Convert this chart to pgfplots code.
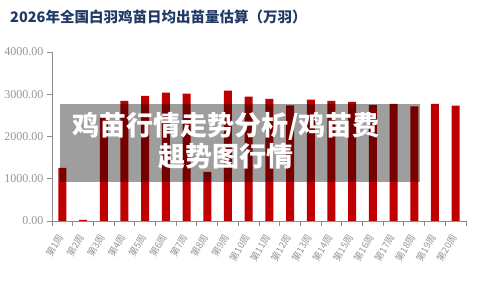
\documentclass[border=0pt]{standalone}
\usepackage{fontspec}
\setmainfont{Liberation Serif}
\newfontfamily\cjk{Noto Sans CJK SC}
\usepackage{pgfplots}
\pgfplotsset{compat=1.18}
\definecolor{barred}{RGB}{192,0,0}
\definecolor{axgray}{RGB}{140,140,140}
\definecolor{lblgray}{RGB}{150,150,150}
\definecolor{titleblue}{RGB}{31,56,100}
\begin{document}
\begin{tikzpicture}[x=1pt,y=1pt]
\path[use as bounding box] (0,0) rectangle (480,288);
\node[anchor=base west,inner sep=0pt,text=titleblue,font=\cjk\bfseries\fontsize{14.5}{16}\selectfont] at (10,265) {2026年全国白羽鸡苗日均出苗量估算（万羽）};
\begin{axis}[
  at={(52pt,67pt)}, anchor=origin,
  scale only axis, width=414pt, height=169pt,
  xmin=0.5, xmax=20.5, ymin=0, ymax=4000,
  axis x line=bottom, axis y line=left,
  axis line style={-, draw=axgray, line width=0.9pt},
  ytick={0,1000,2000,3000,4000},
  yticklabel style={font=\fontsize{12}{13}\selectfont, text=lblgray},
  yticklabel style={/pgf/number format/fixed, /pgf/number format/fixed zerofill, /pgf/number format/precision=2, /pgf/number format/1000 sep={}, /pgf/number format/assume math mode=true},
  ytick style={draw=axgray, line width=0.9pt},
  tick align=outside, major tick length=5pt,
  xtick={1,...,20},
  xticklabels={第1周,第2周,第3周,第4周,第5周,第6周,第7周,第8周,第9周,第10周,第11周,第12周,第13周,第14周,第15周,第16周,第17周,第18周,第19周,第20周},
  xticklabel style={font=\cjk\fontsize{9.5}{10}\selectfont, text=lblgray, rotate=60, anchor=east},
  xticklabel shift=6pt,
  x tick style={draw=none},
  minor xtick={0.5,1.5,...,20.5},
  minor x tick style={draw=axgray, line width=0.9pt},
  minor tick length=5pt,
  ybar, bar width=8pt,
]
\addplot[fill=barred, draw=none] coordinates {
(1,1260) (2,25) (3,2455) (4,2845) (5,2960) (6,3040) (7,3015) (8,1160) (9,3085) (10,2945)
(11,2890) (12,2735) (13,2870) (14,2845) (15,2820) (16,2750) (17,2775) (18,2715) (19,2775) (20,2730)
};
\end{axis}
\fill[black, fill opacity=0.38] (60,106) rectangle (420,184);
\node[text=white, align=center, font=\cjk\bfseries\fontsize{27}{31}\selectfont, inner sep=0pt] at (226,147) {鸡苗行情走势分析/鸡苗费\\趄势图行情};
\end{tikzpicture}
\end{document}
